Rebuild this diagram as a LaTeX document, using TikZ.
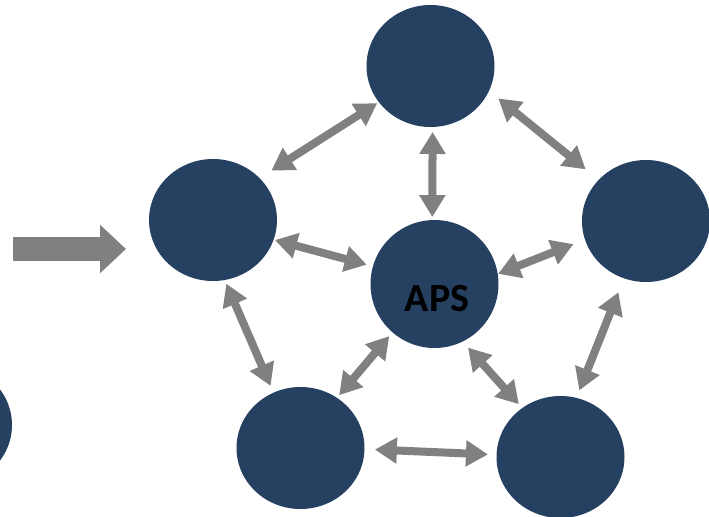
\documentclass[tikz,border=0pt]{standalone}
\usepackage{fontspec}
\setmainfont{Carlito}
\usetikzlibrary{arrows.meta,shapes.geometric}
\definecolor{navy}{RGB}{37,64,97}
\definecolor{arrowgray}{RGB}{128,128,128}
\begin{document}
\begin{tikzpicture}[x=0.5pt,y=-0.5pt,
        blob/.style={ellipse, fill=navy, minimum width=64pt, minimum height=61pt, inner sep=0pt, outer sep=0pt},
        link/.style={{Triangle[length=11pt,width=12.5pt]}-{Triangle[length=11pt,width=12.5pt]}, line width=4pt, draw=arrowgray}]
        \useasboundingbox (0,0) rectangle (709,516);
        \clip (0,0) rectangle (709,516);
        \node[blob] (top) at (430.5,66) {};
        \node[blob] (west) at (213,220) {};
        \node[blob] (east) at (646,221) {};
        \node[blob, minimum height=64pt] (aps) at (434.5,284) {};
        \node[blob] (swest) at (300.5,448) {};
        \node[blob] (seast) at (560.5,457) {};
        \node[blob] (offcut) at (-52,425) {};
        \node[font=\bfseries\fontsize{20}{24}\selectfont] (apslabel) at (437,299) {APS};
        \coordinate (feedstart) at (13,249);
        \coordinate (feedend) at (126,249);
        \draw[arrowgray, line width=12pt, -{Triangle[length=13pt,width=23.5pt]}] (feedstart) -- (feedend);
        \draw[link, shorten <=7pt, shorten >=1pt] (west.42) -- (top.215);
        \draw[link, shorten <=2.5pt, shorten >=1.5pt] (top.272) -- (aps.92);
        \draw[link, shorten <=6pt, shorten >=8.4pt] (top.337) -- (east.139);
        \draw[link, shorten <=0.7pt, shorten >=3.2pt] (west.342) -- (aps.164);
        \draw[link, shorten <=6.2pt, shorten >=0.2pt] (east.197) -- (aps.9);
        \draw[link, shorten <=2pt, shorten >=3.7pt] (west.281) -- (swest.116);
        \draw[link, shorten <=1.7pt, shorten >=2.5pt] (swest.54) -- (aps.229);
        \draw[link, shorten <=4.1pt, shorten >=2.6pt] (aps.296) -- (seast.128);
        \draw[link, shorten <=7.5pt, shorten >=4pt] (east.249) -- (seast.75);
        \draw[link, shorten <=5.2pt, shorten >=4.3pt] (swest.359) -- (seast.178);
    \end{tikzpicture}
\end{document}
